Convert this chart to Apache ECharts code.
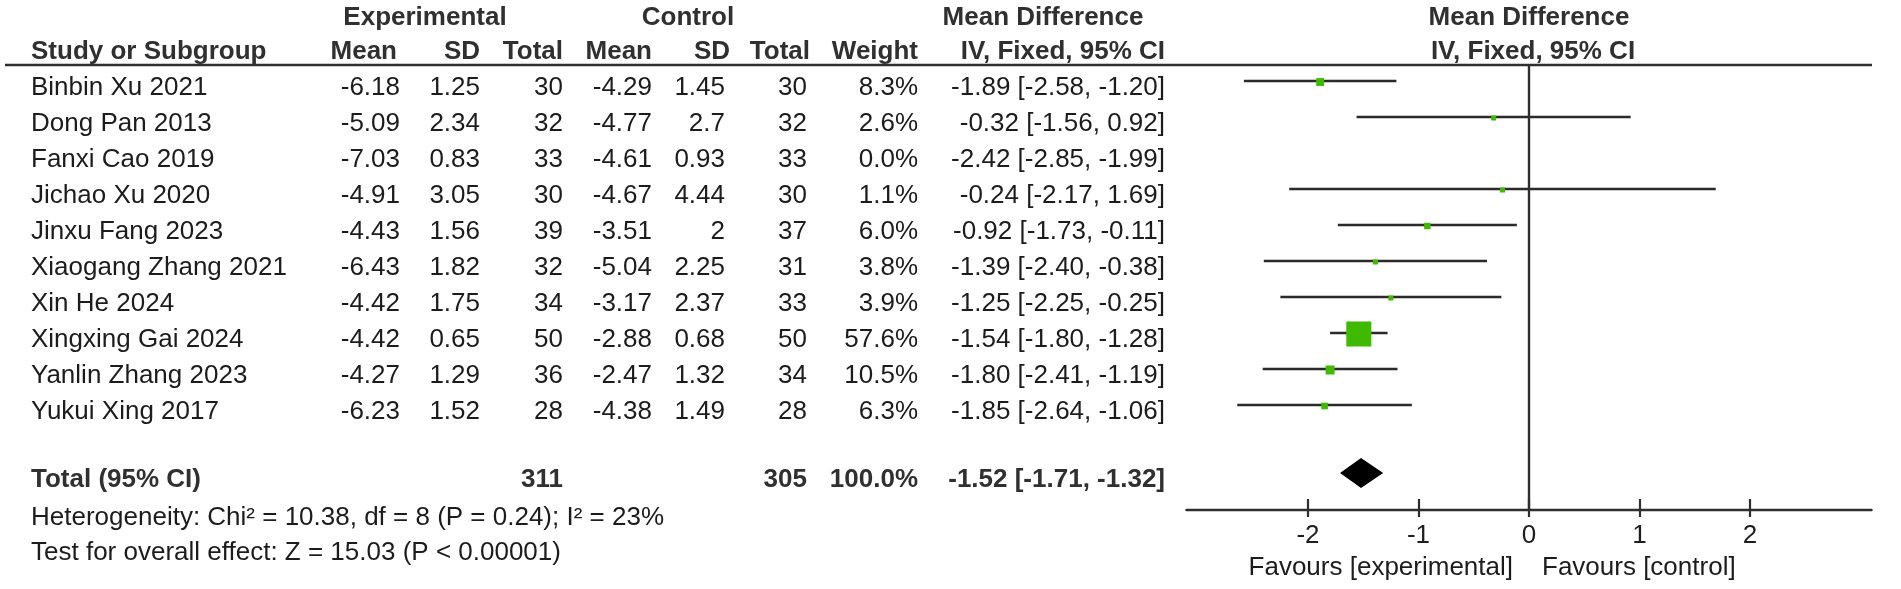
<!DOCTYPE html>
<html>
<head>
<meta charset="utf-8">
<script src="https://cdn.jsdelivr.net/npm/echarts@6/dist/echarts.min.js"></script>
<style>
html,body{margin:0;padding:0;background:#fff;}
#chart{width:1901px;height:589px;}
</style>
</head>
<body>
<div id="chart"></div>
<script>
// ---------- data ----------
const studies = ['Binbin Xu 2021','Dong Pan 2013','Fanxi Cao 2019','Jichao Xu 2020','Jinxu Fang 2023','Xiaogang Zhang 2021','Xin He 2024','Xingxing Gai 2024','Yanlin Zhang 2023','Yukui Xing 2017'];
const expMean = [-6.18,-5.09,-7.03,-4.91,-4.43,-6.43,-4.42,-4.42,-4.27,-6.23];
const expSD   = [1.25,2.34,0.83,3.05,1.56,1.82,1.75,0.65,1.29,1.52];
const expN    = [30,32,33,30,39,32,34,50,36,28];
const ctlMean = [-4.29,-4.77,-4.61,-4.67,-3.51,-5.04,-3.17,-2.88,-2.47,-4.38];
const ctlSD   = [1.45,2.7,0.93,4.44,2,2.25,2.37,0.68,1.32,1.49];
const ctlN    = [30,32,33,30,37,31,33,50,34,28];
const weight  = [8.3,2.6,0.0,1.1,6.0,3.8,3.9,57.6,10.5,6.3];
const md      = [-1.89,-0.32,-2.42,-0.24,-0.92,-1.39,-1.25,-1.54,-1.80,-1.85];
const ciLo    = [-2.58,-1.56,-2.85,-2.17,-1.73,-2.40,-2.25,-1.80,-2.41,-2.64];
const ciHi    = [-1.20,0.92,-1.99,1.69,-0.11,-0.38,-0.25,-1.28,-1.19,-1.06];
const totalExpN = 311, totalCtlN = 305, totalWeight = 100.0;
const totalMd = -1.52, totalLo = -1.71, totalHi = -1.32;
const heterogeneityText = 'Heterogeneity: Chi² = 10.38, df = 8 (P = 0.24); I² = 23%';
const overallText = 'Test for overall effect: Z = 15.03 (P < 0.00001)';
const tickValues = [-2,-1,0,1,2];

// ---------- layout ----------
const W = 1901, H = 589;
const ROW0 = 88, ROWH = 36;
const RULE_Y = 65, AXIS_Y = 510;
const ZERO_X = 1529, UNIT = 110.5, XMIN = -3.1, XMAX = 3.1;
const MARK_DY = -7;
const FONT = '"Liberation Sans", Arial, Helvetica, sans-serif';
const FS = 26, FSB = 26;
const COL = {name:31, eM:400, eS:480, eN:563, cM:652, cS:725, cN:807, w:918, ci:1165};
function rowAtPx(p){ return (p - ROW0) / ROWH; }
const H1 = rowAtPx(18), H2 = rowAtPx(52), FAV = rowAtPx(568);
const TOTAL_ROW = rowAtPx(480), HET_ROW = rowAtPx(518), TEST_ROW = rowAtPx(553);

const fmt = v => String(v);
const ciText = (m,l,h) => m.toFixed(2) + ' [' + l.toFixed(2) + ', ' + h.toFixed(2) + ']';

const cells = [];
function cell(x,row,text,align,bold){ cells.push({x,row,text,align,bold}); }
// headers
cell(425,H1,'Experimental','center',true);
cell(688,H1,'Control','center',true);
cell(1043,H1,'Mean Difference','center',true);
cell(ZERO_X,H1,'Mean Difference','center',true);
cell(COL.name,H2,'Study or Subgroup','left',true);
cell(COL.eM-3,H2,'Mean','right',true);
cell(COL.eS,H2,'SD','right',true);
cell(COL.eN,H2,'Total','right',true);
cell(COL.cM,H2,'Mean','right',true);
cell(COL.cS+5,H2,'SD','right',true);
cell(COL.cN+3,H2,'Total','right',true);
cell(COL.w,H2,'Weight','right',true);
cell(COL.ci,H2,'IV, Fixed, 95% CI','right',true);
cell(ZERO_X+4,H2,'IV, Fixed, 95% CI','center',true);
// study rows
studies.forEach((s,i)=>{
  cell(COL.name,i,s,'left',false);
  cell(COL.eM,i,fmt(expMean[i]),'right',false);
  cell(COL.eS,i,fmt(expSD[i]),'right',false);
  cell(COL.eN,i,fmt(expN[i]),'right',false);
  cell(COL.cM,i,fmt(ctlMean[i]),'right',false);
  cell(COL.cS,i,fmt(ctlSD[i]),'right',false);
  cell(COL.cN,i,fmt(ctlN[i]),'right',false);
  cell(COL.w,i,weight[i].toFixed(1)+'%','right',false);
  cell(COL.ci,i,ciText(md[i],ciLo[i],ciHi[i]),'right',false);
});
// total
cell(COL.name,TOTAL_ROW,'Total (95% CI)','left',true);
cell(COL.eN,TOTAL_ROW,fmt(totalExpN),'right',true);
cell(COL.cN,TOTAL_ROW,fmt(totalCtlN),'right',true);
cell(COL.w,TOTAL_ROW,totalWeight.toFixed(1)+'%','right',true);
cell(COL.ci,TOTAL_ROW,ciText(totalMd,totalLo,totalHi),'right',true);
cell(COL.name,HET_ROW,heterogeneityText,'left',false);
cell(COL.name,TEST_ROW,overallText,'left',false);
cell(ZERO_X-16,FAV,'Favours [experimental]','right',false);
cell(ZERO_X+13,FAV,'Favours [control]','left',false);

const forestData = studies.map((s,i)=>[md[i],ciLo[i],ciHi[i],i,weight[i]]);

const chart = echarts.init(document.getElementById('chart'), null, {renderer:'canvas'});
chart.setOption({
  animation:false,
  backgroundColor:'#ffffff',
  grid:[
    {left:0, top:0, width:W, height:H},
    {left:ZERO_X + XMIN*UNIT, top:RULE_Y, width:(XMAX-XMIN)*UNIT, height:AXIS_Y-RULE_Y}
  ],
  xAxis:[
    {gridIndex:0, type:'value', min:0, max:W, show:false},
    {gridIndex:1, type:'value', min:XMIN, max:XMAX, position:'bottom',
      axisLine:{onZero:false, lineStyle:{color:'#2e2e2e', width:2.4}},
      axisTick:{show:true, customValues:tickValues, length:7, lineStyle:{color:'#2e2e2e', width:2.2}},
      axisLabel:{show:true, customValues:tickValues, fontSize:26, fontFamily:FONT, color:'#1e1e1e', margin:13},
      splitLine:{show:false}},
    {gridIndex:1, type:'value', min:XMIN, max:XMAX, position:'bottom',
      axisLine:{show:false, onZero:false},
      axisTick:{show:true, inside:true, customValues:tickValues, length:11, lineStyle:{color:'#2e2e2e', width:2.2}},
      axisLabel:{show:false}, splitLine:{show:false}}
  ],
  yAxis:[
    {gridIndex:0, type:'value', inverse:true, min:rowAtPx(0), max:rowAtPx(H), show:false},
    {gridIndex:1, type:'value', inverse:true, min:rowAtPx(RULE_Y), max:rowAtPx(AXIS_Y), show:false}
  ],
  graphic:[
    {type:'line', shape:{x1:5, y1:RULE_Y, x2:1872, y2:RULE_Y}, style:{stroke:'#2e2e2e', lineWidth:2.4}, z:10}
  ],
  series:[
    {
      type:'custom', xAxisIndex:0, yAxisIndex:0, silent:true,
      data: cells.map(c=>[c.x,c.row]),
      renderItem:function(params, api){
        const c = cells[params.dataIndex];
        const p = api.coord([c.x, c.row]);
        return {type:'text', x:p[0], y:p[1], style:{
          text:c.text, font:(c.bold?'bold '+FSB:FS) + 'px ' + FONT,
          fill: c.bold ? '#303030' : '#1c1c1c',
          align:c.align, verticalAlign:'middle', textAlign:c.align, textVerticalAlign:'middle'}};
      }
    },
    {
      type:'custom', xAxisIndex:1, yAxisIndex:1, silent:true,
      data: forestData,
      renderItem:function(params, api){
        const w = api.value(4);
        if (!(w > 0)) return {type:'group', children:[]};
        const row = api.value(3);
        const a = api.coord([api.value(1), row]);
        const b = api.coord([api.value(2), row]);
        const c = api.coord([api.value(0), row]);
        const y = a[1] + MARK_DY;
        const s = Math.max(5, 2.2*Math.pow(w,0.6));
        return {type:'group', children:[
          {type:'line', shape:{x1:a[0], y1:y, x2:b[0], y2:y}, style:{stroke:'#2a2a2a', lineWidth:2.4}},
          {type:'rect', shape:{x:c[0]-s/2, y:y+1-s/2, width:s, height:s}, style:{fill:'#3fba00'}}
        ]};
      }
    },
    {
      type:'custom', xAxisIndex:1, yAxisIndex:1, silent:true,
      data: [[totalMd,totalLo,totalHi,TOTAL_ROW]],
      renderItem:function(params, api){
        const row = api.value(3);
        const l = api.coord([api.value(1), row]);
        const r = api.coord([api.value(2), row]);
        const m = api.coord([api.value(0), row]);
        const cy = m[1] - 7, h = 15;
        return {type:'polygon', shape:{points:[[l[0],cy],[m[0],cy-h],[r[0],cy],[m[0],cy+h]]}, style:{fill:'#000'}};
      },
      markLine:{silent:true, symbol:['none','none'], label:{show:false},
        lineStyle:{color:'#2e2e2e', width:2.4, type:'solid'}, data:[{xAxis:0}]}
    }
  ]
});
</script>
</body>
</html>
